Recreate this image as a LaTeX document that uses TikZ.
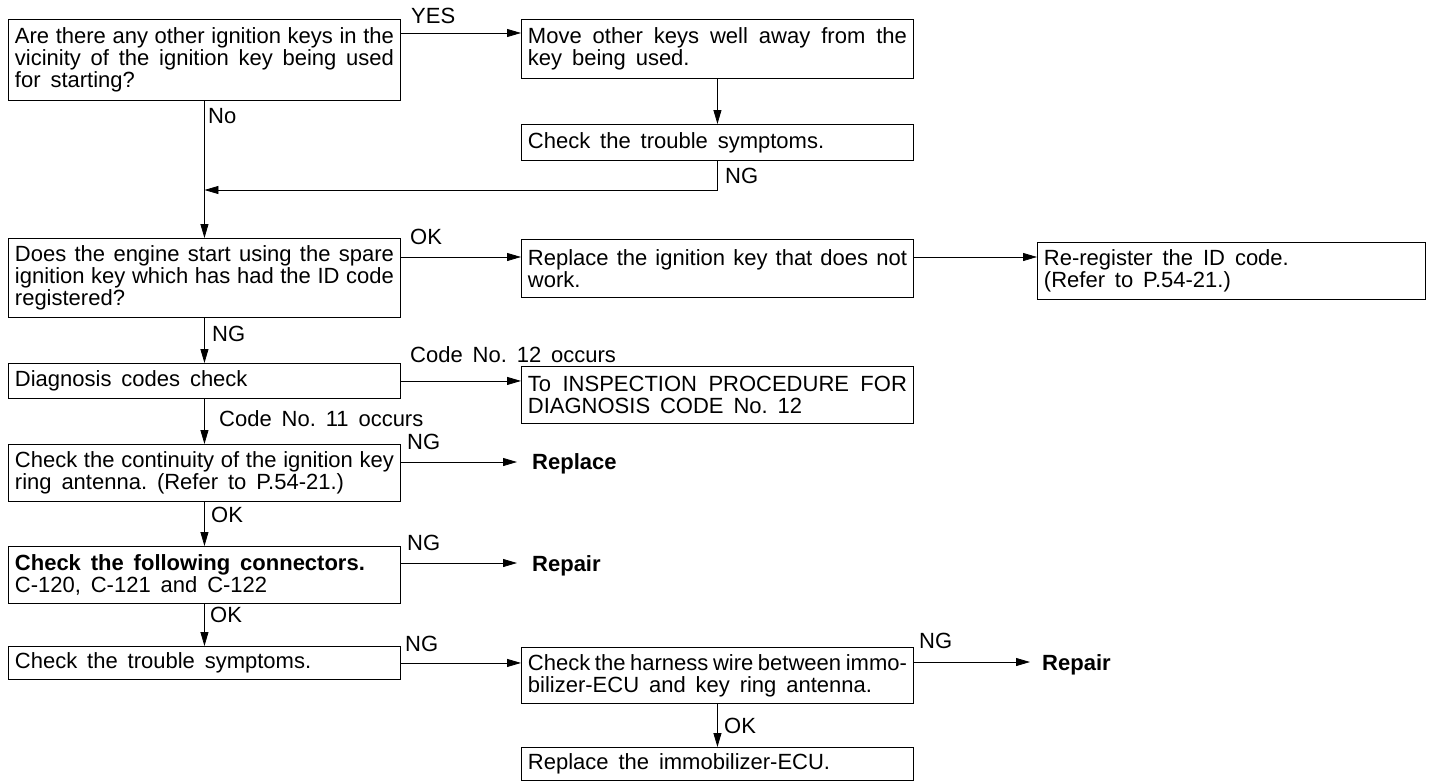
\documentclass[tikz,border=0pt]{standalone}
\usepackage{fontspec}
\setmainfont{Liberation Sans}
\usetikzlibrary{arrows.meta,calc}
\newcommand{\fsz}{\fontsize{22}{22}\selectfont\frenchspacing\spaceskip=0.45em plus 0.25em minus 0.32em\relax\tolerance=10000\hbadness=10000\hfuzz=20pt}
\begin{document}
\begin{tikzpicture}[x=1pt,y=-1pt,
  box/.style={draw, line width=0.9pt, text width=379pt, inner xsep=6.5pt, inner ysep=0pt, align=justify, anchor=north west, font=\fsz},
  lab/.style={inner sep=0pt, anchor=base west, font=\fsz},
  blab/.style={inner sep=0pt, anchor=base west, font=\fsz\bfseries},
  arr/.style={line width=0.8pt, -{Triangle[length=14pt,width=8pt]}}]
\useasboundingbox (0,0) rectangle (1437,782);

% boxes
\node[box, minimum height=81pt] (b1) at (8,19) {Are there any other ignition keys in the\linebreak vicinity of the ignition key being used\linebreak for starting?};
\node[box, minimum height=59pt] (b2) at (521,19) {Move other keys well away from the\linebreak key being used.};
\node[box, minimum height=36pt] (b3) at (521,124) {Check the trouble symptoms.};
\node[box, minimum height=79pt] (b4) at (8,238) {Does the engine start using the spare\linebreak ignition key which has had the ID code\linebreak registered?};
\node[box, minimum height=58pt] (b5) at (521,239) {Replace the ignition key that does not\linebreak work.};
\node[box, text width=375pt, minimum height=57pt] (b6) at (1037,242) {Re-register the ID code.\\(Refer to P.54-21.)};
\node[box, minimum height=35pt] (b7) at (8,363) {Diagnosis codes check};
\node[box, minimum height=57pt] (b8) at (521,366) {To INSPECTION PROCEDURE FOR\linebreak DIAGNOSIS CODE No. 12};
\node[box, minimum height=57pt] (b9) at (8,444) {Check the continuity of the ignition key\linebreak ring antenna. (Refer to P.54-21.)};
\node[box, minimum height=57pt] (b10) at (8,546) {\textbf{Check the following connectors.}\\C-120, C-121 and C-122};
\node[box, minimum height=33pt] (b11) at (8,646) {Check the trouble symptoms.};
\node[box, minimum height=56pt] (b12) at (521,647) {Check the harness wire between immo-\linebreak bilizer-ECU and key ring antenna.};
\node[box, minimum height=33pt] (b13) at (521,747) {Replace the immobilizer-ECU.};

% end labels
\node[blab] (rp1) at (532,469) {Replace};
\node[blab] (rp2) at (532,571) {Repair};
\node[blab] (rp3) at (1042,670) {Repair};

% branch labels
\node[lab] (lyes) at (411,23) {YES};
\node[lab] (lno) at (208,123) {No};
\node[lab] (lng1) at (725,183) {NG};
\node[lab] (lok1) at (410,244) {OK};
\node[lab] (lng2) at (212,341) {NG};
\node[lab] (lc12) at (410,362) {Code No. 12 occurs};
\node[lab] (lc11) at (219,426) {Code No. 11 occurs};
\node[lab] (lng3) at (407,449) {NG};
\node[lab] (lok2) at (211,522) {OK};
\node[lab] (lng4) at (407,550) {NG};
\node[lab] (lok3) at (210,622) {OK};
\node[lab] (lng5) at (405,651) {NG};
\node[lab] (lng6) at (919,648) {NG};
\node[lab] (lok4) at (724,733) {OK};

% connectors
\coordinate (o1) at ([yshift=-14pt]b1.north east);
\draw[arr] (o1) -- (o1 -| b2.west);
\draw[arr] (b2.south) -- (b3.north);
\coordinate (j1) at (b1.south |- 0,190);
\draw[arr] (b3.south) |- (j1);
\draw[arr] (b1.south) -- (b4.north);

\coordinate (o4) at ([yshift=-19pt]b4.north east);
\draw[arr] (o4) -- (o4 -| b5.west);
\coordinate (o5) at ([yshift=-18pt]b5.north east);
\draw[arr] (o5) -- (o5 -| b6.west);

\draw[arr] (b4.south) -- (b7.north);
\draw[arr] (b7.east) -- (b7.east -| b8.west);
\draw[arr] (b7.south) -- (b9.north);

\coordinate (o9) at ([yshift=-18pt]b9.north east);
\coordinate (t9) at (o9 -| rp1.west);
\draw[arr] (o9) -- ([xshift=-15pt]t9);
\draw[arr] (b9.south) -- (b10.north);

\coordinate (o10) at ([yshift=-17pt]b10.north east);
\coordinate (t10) at (o10 -| rp2.west);
\draw[arr] (o10) -- ([xshift=-15pt]t10);
\draw[arr] (b10.south) -- (b11.north);

\draw[arr] (b11.east) -- (b11.east -| b12.west);
\coordinate (o12) at ([yshift=-15pt]b12.north east);
\coordinate (t12) at (o12 -| rp3.west);
\draw[arr] (o12) -- ([xshift=-12pt]t12);
\draw[arr] (b12.south) -- (b13.north);
\end{tikzpicture}
\end{document}
